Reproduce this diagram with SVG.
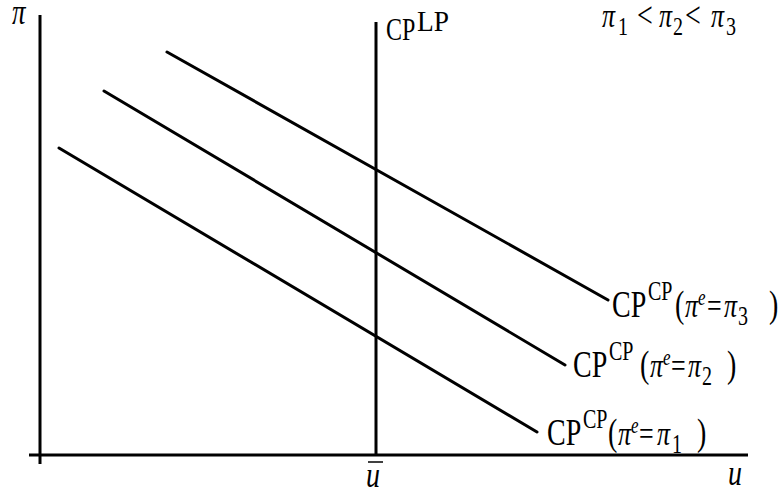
<svg xmlns="http://www.w3.org/2000/svg" width="784" height="490" viewBox="0 0 784 490">
<style>
.ax{stroke:#000;stroke-width:3;fill:none}
.ln{stroke:#000;stroke-width:3;fill:none;stroke-linecap:round}
text{font-family:"Liberation Serif","Times New Roman",serif;fill:#000}
.m{font-size:28px}
.p{font-size:26px;font-style:italic}
.q{font-size:26px}
.s{font-size:20px}
.e{font-size:17px;font-style:italic}
</style>
<rect width="784" height="490" fill="#fff"/>
<g id="axes">
<line class="ax" x1="40" y1="15" x2="40" y2="464"/>
<line class="ax" x1="29" y1="455" x2="748" y2="455"/>
</g>
<g id="connectors">
<line id="cp-lp" class="ax" x1="376" y1="22" x2="376" y2="455"/>
<line class="ln" x1="59" y1="148" x2="537" y2="432"/>
<line class="ln" x1="104" y1="91" x2="565" y2="365"/>
<line class="ln" x1="167" y1="52" x2="608" y2="300"/>
</g>
<g id="label-pi" transform="translate(12,24) scale(1,1.3)"><text x="0" y="0" style="font-size:27px;font-style:italic">π</text></g>
<g id="label-cplp" transform="translate(386,40) scale(1,1.28)"><text x="0" y="0" style="font-size:24px">CP</text><text x="31" y="-7" style="font-size:23px" textLength="32" lengthAdjust="spacingAndGlyphs">LP</text></g>
<g id="label-order" transform="translate(0,27) scale(1,1.3)">
<text x="602" y="0" class="p">π</text><text x="618" y="6" class="s">1</text>
<text x="637" y="0" class="m">&lt;</text>
<text x="659" y="0" class="p">π</text><text x="673" y="6" class="s">2</text>
<text x="685" y="0" class="m">&lt;</text>
<text x="711" y="0" class="p">π</text><text x="726" y="6" class="s">3</text>
</g>
<g id="label-cp3" transform="translate(612,317) scale(1,1.33)">
<text x="0" y="0" class="m">CP</text><text x="36" y="-12.5" class="s">CP</text>
<text x="63" y="0" class="m">(</text><text x="73" y="0" class="p">π</text><text x="86" y="-9" class="e">e</text>
<text x="95" y="0" class="q">=</text><text x="112" y="0" class="p">π</text><text x="126" y="6" class="s">3</text>
<text x="157" y="0" class="m">)</text>
</g>
<g id="label-cp2" transform="translate(573,377) scale(1,1.33)">
<text x="0" y="0" class="m">CP</text><text x="36" y="-12.5" class="s">CP</text>
<text x="67" y="0" class="m">(</text><text x="77" y="0" class="p">π</text><text x="90" y="-9" class="e">e</text>
<text x="98" y="0" class="q">=</text><text x="115" y="0" class="p">π</text><text x="129" y="6" class="s">2</text>
<text x="154" y="0" class="m">)</text>
</g>
<g id="label-cp1" transform="translate(547,445) scale(1,1.33)">
<text x="0" y="0" class="m">CP</text><text x="36" y="-12.5" class="s">CP</text>
<text x="61" y="0" class="m">(</text><text x="71" y="0" class="p">π</text><text x="84" y="-9" class="e">e</text>
<text x="92" y="0" class="q">=</text><text x="110" y="0" class="p">π</text><text x="125" y="6" class="s">1</text>
<text x="150" y="0" class="m">)</text>
</g>
<g id="label-ubar"><line x1="368" y1="462" x2="383" y2="462" stroke="#000" stroke-width="1.5"/><text transform="translate(366,487) scale(1,1.3)" style="font-size:28px;font-style:italic">u</text></g>
<g id="label-u"><text transform="translate(728,485) scale(1,1.3)" style="font-size:28px;font-style:italic">u</text></g>
</svg>
